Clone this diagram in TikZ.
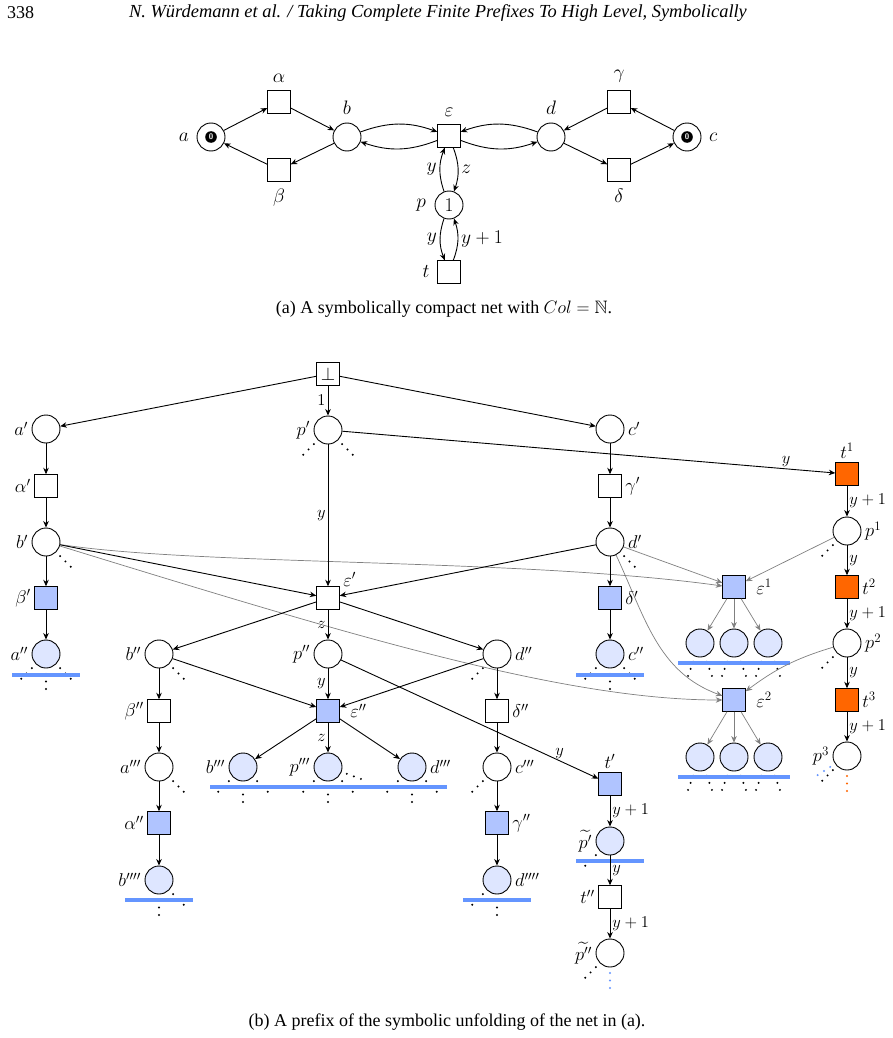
\RequirePackage{fix-cm}
\documentclass[tikz,border=0pt]{standalone}
\usepackage{amssymb}
\DeclareFontFamily{U}{msb}{}
\DeclareFontShape{U}{msb}{m}{n}{<->msbm10}{}
\usepackage{fontspec}
\setmainfont{Liberation Serif}
\usetikzlibrary{arrows.meta,calc}
\definecolor{tfill}{RGB}{176,196,255}
\definecolor{pfill}{RGB}{222,230,255}
\definecolor{barc}{RGB}{100,149,255}
\definecolor{orng}{RGB}{255,102,0}
\newcommand\dray[3][black]{\foreach \k in {20,27.5,35}{\fill[#1] ($(#2)+(#3:\k)$) circle (1.1);}}
\tikzset{
 pl/.style={circle,draw,minimum size=28pt,inner sep=0pt,line width=0.9pt},
 tr/.style={rectangle,draw,minimum size=22.5pt,inner sep=0pt,line width=0.9pt},
 bt/.style={tr,fill=tfill},
 bp/.style={pl,fill=pfill},
 ot/.style={tr,fill=orng},
 arc/.style={-{Stealth[length=6.5pt,width=5.5pt,inset=2pt]},line width=0.9pt},
 garc/.style={-{Stealth[length=6.5pt,width=5.5pt,inset=2pt]},line width=0.7pt,draw=black!50},
 lbl/.style={font=\fontsize{18.5}{22}\selectfont,inner sep=1.5pt},
 toplbl/.style={font=\fontsize{19.5}{23}\selectfont,inner sep=1.5pt},
 tlbl/.style={font=\fontsize{19.5}{23}\selectfont,inner sep=3pt},
 elbl/.style={font=\fontsize{16.5}{19}\selectfont,inner sep=2pt},
 bar/.style={draw=barc,line width=3.5pt},
 txt/.style={font=\fontsize{18}{21}\selectfont,inner sep=0pt},
 every label/.append style={lbl},
}
\begin{document}
\begin{tikzpicture}[x=1pt,y=1pt]
\fill[white] (0,0) rectangle (893,-1038);
\useasboundingbox (0,0) rectangle (893,-1038);

% header and captions
\node[txt,anchor=west] (pg) at (7,-13) {338};
\node[txt,font=\itshape\fontsize{18.4}{21}\selectfont] (hd) at (438,-13) {N. Würdemann et al. / Taking Complete Finite Prefixes To High Level, Symbolically};
\node[txt] (capa) at (444,-309) {(a) A symbolically compact net with $Col=\mathbb{N}$.};
\node[txt] (capb) at (447,-1022) {(b) A prefix of the symbolic unfolding of the net in (a).};

% ---------- net (a)
\begin{scope}[label distance=6pt,every label/.append style={toplbl}]
\node[pl,label=left:$a$] (a) at (211,-137) {};
\node[tr,label=above:$\alpha$] (al) at (279,-102) {};
\node[tr,label=below:$\beta$] (be) at (279,-170) {};
\node[pl,label=above:$b$] (b) at (347,-137) {};
\node[tr,label=above:$\varepsilon$] (ep) at (449,-136) {};
\node[pl,label=above:$d$] (d) at (551,-137) {};
\node[tr,label=above:$\gamma$] (ga) at (619,-102) {};
\node[tr,label=below:$\delta$] (de) at (619,-170) {};
\node[pl,label=right:$c$] (c) at (687,-137) {};
\node[pl,font=\fontsize{19.5}{23}\selectfont,label={[label distance=7pt]left:$p$}] (p) at (449,-205) {$1$};
\node[tr,label=left:$t$] (t) at (449,-272) {};
\end{scope}
\fill (a) circle (5.8);
\node[text=white,font=\sffamily\bfseries\fontsize{8}{8}\selectfont,inner sep=0pt] (ta) at (a) {0};
\fill (c) circle (5.8);
\node[text=white,font=\sffamily\bfseries\fontsize{8}{8}\selectfont,inner sep=0pt] (tc) at (c) {0};

\draw[arc] (a) -- (al);
\draw[arc] (al) -- (b);
\draw[arc] (b) -- (be);
\draw[arc] (be) -- (a);
\draw[arc] (c) -- (ga);
\draw[arc] (ga) -- (d);
\draw[arc] (d) -- (de);
\draw[arc] (de) -- (c);
\draw[arc] (b) to[bend left=20] (ep);
\draw[arc] (ep) to[bend left=20] (b);
\draw[arc] (d) to[bend right=20] (ep);
\draw[arc] (ep) to[bend right=20] (d);
\draw[arc] (p) to[bend left=20] node[left,tlbl]{$y$} (ep);
\draw[arc] (ep) to[bend left=20] node[right,tlbl]{$z$} (p);
\draw[arc] (p) to[bend right=20] node[left,tlbl]{$y$} (t);
\draw[arc] (t) to[bend right=20] node[right,tlbl]{$y+1$} (p);

% ---------- prefix (b)
\begin{scope}[label distance=2pt]
\node[tr,font=\fontsize{18.5}{22}\selectfont] (bot) at (328,-374) {$\bot$};
\node[pl,label=left:$a'$] (a1) at (46,-429) {};
\node[pl,label=left:$p'$] (p1) at (328,-430) {};
\node[pl,label=right:$c'$] (c1) at (610,-429) {};
\node[tr,label=left:$\alpha'$] (al1) at (46,-486) {};
\node[tr,label=right:$\gamma'$] (ga1) at (610,-486) {};
\node[pl,label=left:$b'$] (b1) at (46,-542) {};
\node[pl,label=right:$d'$] (d1) at (610,-542) {};
\node[bt,label=left:$\beta'$] (be1) at (46,-598) {};
\node[tr,label={[anchor=base west,xshift=2pt,label distance=0pt]north east:$\varepsilon'$}] (e1) at (328,-598) {};
\node[bt,label=right:$\delta'$] (de1) at (610,-598) {};
\node[bp,label=left:$a''$] (a2) at (46,-654) {};
\node[pl,label=left:$b''$] (b2) at (159,-654) {};
\node[pl,label=left:$p''$] (p2) at (328,-654) {};
\node[pl,label=right:$d''$] (d2) at (497,-654) {};
\node[bp,label=right:$c''$] (c2) at (610,-654) {};
\node[tr,label=left:$\beta''$] (be2) at (159,-711) {};
\node[bt,label={[label distance=9pt]right:$\varepsilon''$}] (e2) at (328,-711) {};
\node[tr,label=right:$\delta''$] (de2) at (497,-711) {};
\node[pl,label=left:$a'''$] (a3) at (159,-767) {};
\node[bp,label=left:$b'''$] (b3) at (243,-767) {};
\node[bp,label=left:$p'''$] (p3) at (328,-767) {};
\node[bp,label=right:$d'''$] (d3) at (412,-767) {};
\node[pl,label=right:$c'''$] (c3) at (497,-767) {};
\node[bt,label=left:$\alpha''$] (al2) at (159,-823) {};
\node[bt,label=right:$\gamma''$] (ga2) at (497,-823) {};
\node[bp,label=left:$b''''$] (b4) at (159,-880) {};
\node[bp,label=right:$d''''$] (d4) at (497,-880) {};
\node[bt,label=above:$t'$] (tp) at (610,-784) {};
\node[bp,label=left:$\widetilde{p'}$] (pt1) at (610,-841) {};
\node[tr,label=left:$t''$] (tpp) at (610,-897) {};
\node[pl,label=left:$\widetilde{p''}$] (pt2) at (610,-953) {};
\node[ot,label=above:$t^1$] (T1) at (847,-474) {};
\node[pl,label=right:$p^1$] (P1) at (847,-531) {};
\node[ot,label=right:$t^2$] (T2) at (847,-587) {};
\node[pl,label=right:$p^2$] (P2) at (847,-643) {};
\node[ot,label=right:$t^3$] (T3) at (847,-700) {};
\node[pl,label=left:$p^3$] (P3) at (847,-756) {};
\node[bt,label={[label distance=9pt]right:$\varepsilon^1$}] (E1) at (734,-587) {};
\node[bt,label={[label distance=9pt]right:$\varepsilon^2$}] (E2) at (734,-700) {};
\node[bp] (q11) at (700,-643) {};
\node[bp] (q12) at (734,-643) {};
\node[bp] (q13) at (768,-643) {};
\node[bp] (q21) at (700,-757) {};
\node[bp] (q22) at (734,-757) {};
\node[bp] (q23) at (768,-757) {};
\end{scope}

% cut-off dots
\dray{p1}{-135}\dray{p1}{-45}
\dray{b1}{-45}\dray{d1}{-45}
\dray{P1}{-135}\dray{P2}{-135}
\dray{P3}{-135}\dray[barc]{P3}{-147}\dray[orng]{P3}{-90}
\dray{a2}{-135}\dray{a2}{-45}\dray{a2}{-90}
\dray{c2}{-135}\dray{c2}{-45}\dray{c2}{-90}
\dray{b2}{-45}\dray{d2}{-135}
\dray{a3}{-45}\dray{c3}{-135}
\dray{b3}{-135}\dray{b3}{-45}\dray{b3}{-90}
\dray{p3}{-135}\dray{p3}{-45}\dray{p3}{-90}\dray{p3}{-20}
\dray{d3}{-135}\dray{d3}{-45}\dray{d3}{-90}
\dray{b4}{-45}\dray{b4}{-90}
\dray{d4}{-135}\dray{d4}{-90}
\dray{pt1}{-135}
\dray{pt2}{-135}\dray[barc]{pt2}{-90}
\foreach \q in {q11,q12,q13,q21,q22,q23}{\dray{\q}{-110}\dray{\q}{-70}}

% bars
\draw[bar] (12,-675) -- (80,-675);
\draw[bar] (576,-675) -- (644,-675);
\draw[bar] (210,-787) -- (447,-787);
\draw[bar] (125,-900) -- (193,-900);
\draw[bar] (463,-900) -- (531,-900);
\draw[bar] (576,-861) -- (644,-861);
\draw[bar] (678,-663) -- (790,-663);
\draw[bar] (678,-777) -- (790,-777);

% gray arcs
\draw[garc] (b1.-10) .. controls (200,-566) and (520,-558) .. (E1.175);
\draw[garc] (b1.-16) .. controls (340,-632) and (560,-700) .. (E2.west);
\draw[garc] (d1) to[out=-20,in=160] (E1);
\draw[garc] (d1) to[out=-65,in=160] (E2);
\draw[garc] (P1) -- (E1);
\draw[garc] (P2) to[bend right=10] (E2);
\foreach \q in {q11,q12,q13}{\draw[garc] (E1) -- (\q);}
\foreach \q in {q21,q22,q23}{\draw[garc] (E2) -- (\q);}

% black arcs
\draw[arc] (bot) -- (a1);
\draw[arc] (bot) -- node[left,elbl]{$1$} (p1);
\draw[arc] (bot) -- (c1);
\draw[arc] (a1) -- (al1);
\draw[arc] (al1) -- (b1);
\draw[arc] (b1) -- (be1);
\draw[arc] (be1) -- (a2);
\draw[arc] (c1) -- (ga1);
\draw[arc] (ga1) -- (d1);
\draw[arc] (d1) -- (de1);
\draw[arc] (de1) -- (c2);
\draw[arc] (p1) -- node[left,elbl]{$y$} (e1);
\draw[arc] (p1) -- node[pos=0.9,above,elbl]{$y$} (T1);
\draw[arc] (b1) -- (e1);
\draw[arc] (d1) -- (e1);
\draw[arc] (e1) -- (b2);
\draw[arc] (e1) -- node[left,elbl]{$z$} (p2);
\draw[arc] (e1) -- (d2);
\draw[arc] (b2) -- (e2);
\draw[arc] (p2) -- node[left,elbl]{$y$} (e2);
\draw[arc] (d2) -- (e2);
\draw[arc] (b2) -- (be2);
\draw[arc] (be2) -- (a3);
\draw[arc] (a3) -- (al2);
\draw[arc] (al2) -- (b4);
\draw[arc] (d2) -- (de2);
\draw[arc] (de2) -- (c3);
\draw[arc] (c3) -- (ga2);
\draw[arc] (ga2) -- (d4);
\draw[arc] (e2) -- (b3);
\draw[arc] (e2) -- node[left,elbl]{$z$} (p3);
\draw[arc] (e2) -- (d3);
\draw[arc] (p2) -- node[pos=0.85,above,elbl]{$y$} (tp);
\draw[arc] (tp) -- node[right,elbl]{$y+1$} (pt1);
\draw[arc] (pt1) -- node[right,elbl]{$y$} (tpp);
\draw[arc] (tpp) -- node[right,elbl]{$y+1$} (pt2);
\draw[arc] (T1) -- node[right,elbl]{$y+1$} (P1);
\draw[arc] (P1) -- node[right,elbl]{$y$} (T2);
\draw[arc] (T2) -- node[right,elbl]{$y+1$} (P2);
\draw[arc] (P2) -- node[right,elbl]{$y$} (T3);
\draw[arc] (T3) -- node[right,elbl]{$y+1$} (P3);
\end{tikzpicture}
\end{document}
